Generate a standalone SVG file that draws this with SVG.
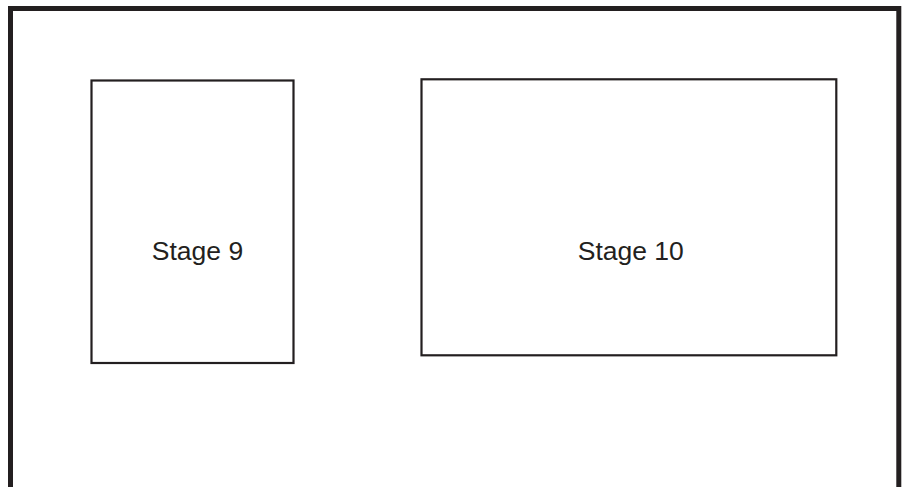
<svg xmlns="http://www.w3.org/2000/svg" width="908" height="487" viewBox="0 0 908 487">
<style>
.frame{fill:none;stroke:#231f20;stroke-width:5}
.stage{fill:#fff;stroke:#231f20;stroke-width:2.2}
.lbl{font-family:"Liberation Sans",Arial,sans-serif;font-size:26.5px;fill:#231f20;text-anchor:middle}
</style>
<rect width="908" height="487" fill="#fff"/>
<path class="frame" d="M10.5,495 V8.5 H898.8 V495"/>
<g id="stage9">
<rect class="stage" x="91.5" y="80.5" width="202" height="282.5"/>
<text class="lbl" x="197.5" y="260">Stage 9</text>
</g>
<g id="stage10">
<rect class="stage" x="421.5" y="79.3" width="414.8" height="276"/>
<text class="lbl" x="630.8" y="259.5">Stage 10</text>
</g>
<g id="connectors"></g>
</svg>
